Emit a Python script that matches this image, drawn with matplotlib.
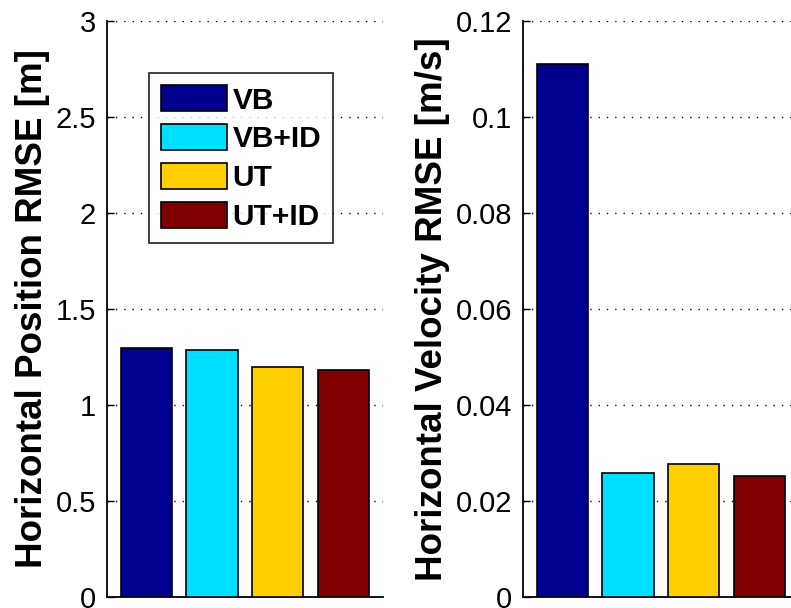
import matplotlib
matplotlib.use("Agg")
import matplotlib.pyplot as plt
import numpy as np

plt.rcParams['font.family'] = ['Liberation Sans', 'DejaVu Sans']

methods = ["VB", "VB+ID", "UT", "UT+ID"]
pos_rmse = [1.297, 1.288, 1.200, 1.182]
vel_rmse = [0.1110, 0.0259, 0.0277, 0.0252]
colors = ["#00008F", "#00DFFF", "#FFCF00", "#800000"]
pos_ticks = [0, 0.5, 1, 1.5, 2, 2.5, 3]
pos_ticklabels = ["0", "0.5", "1", "1.5", "2", "2.5", "3"]
vel_ticks = [0, 0.02, 0.04, 0.06, 0.08, 0.1, 0.12]
vel_ticklabels = ["0", "0.02", "0.04", "0.06", "0.08", "0.1", "0.12"]

W, H = 791, 608
fig = plt.figure(figsize=(W / 100, H / 100), dpi=100)

def px_axes(x0, x1, ytop, ybot):
    return fig.add_axes([x0 / W, (H - ybot) / H, (x1 - x0) / W, (ybot - ytop) / H])

ax1 = px_axes(107, 382.6, 21, 597)
ax2 = px_axes(523, 798.6, 21, 597)

x = np.arange(1, len(methods) + 1)

def style(ax, vals, ticks, labels, ylabel):
    bars = ax.bar(x, vals, width=0.78, color=colors, edgecolor="black", linewidth=1.2, zorder=3)
    ax.set_xlim(0.4, 4.6)
    ax.set_ylim(ticks[0], ticks[-1])
    ax.set_yticks(ticks)
    ax.set_yticklabels(labels, fontsize=21)
    ax.set_xticks([])
    ax.spines['top'].set_visible(False)
    ax.spines['right'].set_visible(False)
    ax.spines['left'].set_linewidth(1.3)
    ax.spines['bottom'].set_linewidth(1.3)
    ax.tick_params(axis='y', direction='in', length=5, width=1, pad=8)
    ax.yaxis.grid(True, linestyle=(0, (1, 5)), color='black', linewidth=1.0, zorder=0)
    ax.set_axisbelow(True)
    ax.set_ylabel(ylabel, fontsize=26.5, fontweight='bold', labelpad=4)
    return bars

bars1 = style(ax1, pos_rmse, pos_ticks, pos_ticklabels, "Horizontal Position RMSE [m]")
style(ax2, vel_rmse, vel_ticks, vel_ticklabels, "Horizontal Velocity RMSE [m/s]")

leg = ax1.legend(bars1, methods, loc='upper left', bbox_to_anchor=(0.152, 0.909),
                 borderaxespad=0, frameon=True, fancybox=False, shadow=False,
                 prop={'weight': 'bold', 'size': 21.5}, handlelength=2.2, handleheight=0.95,
                 handletextpad=0.2, labelspacing=0.33, borderpad=0.4)
leg.get_frame().set_edgecolor('black')
leg.get_frame().set_linewidth(1.3)

fig.savefig("out.png", dpi=100)
